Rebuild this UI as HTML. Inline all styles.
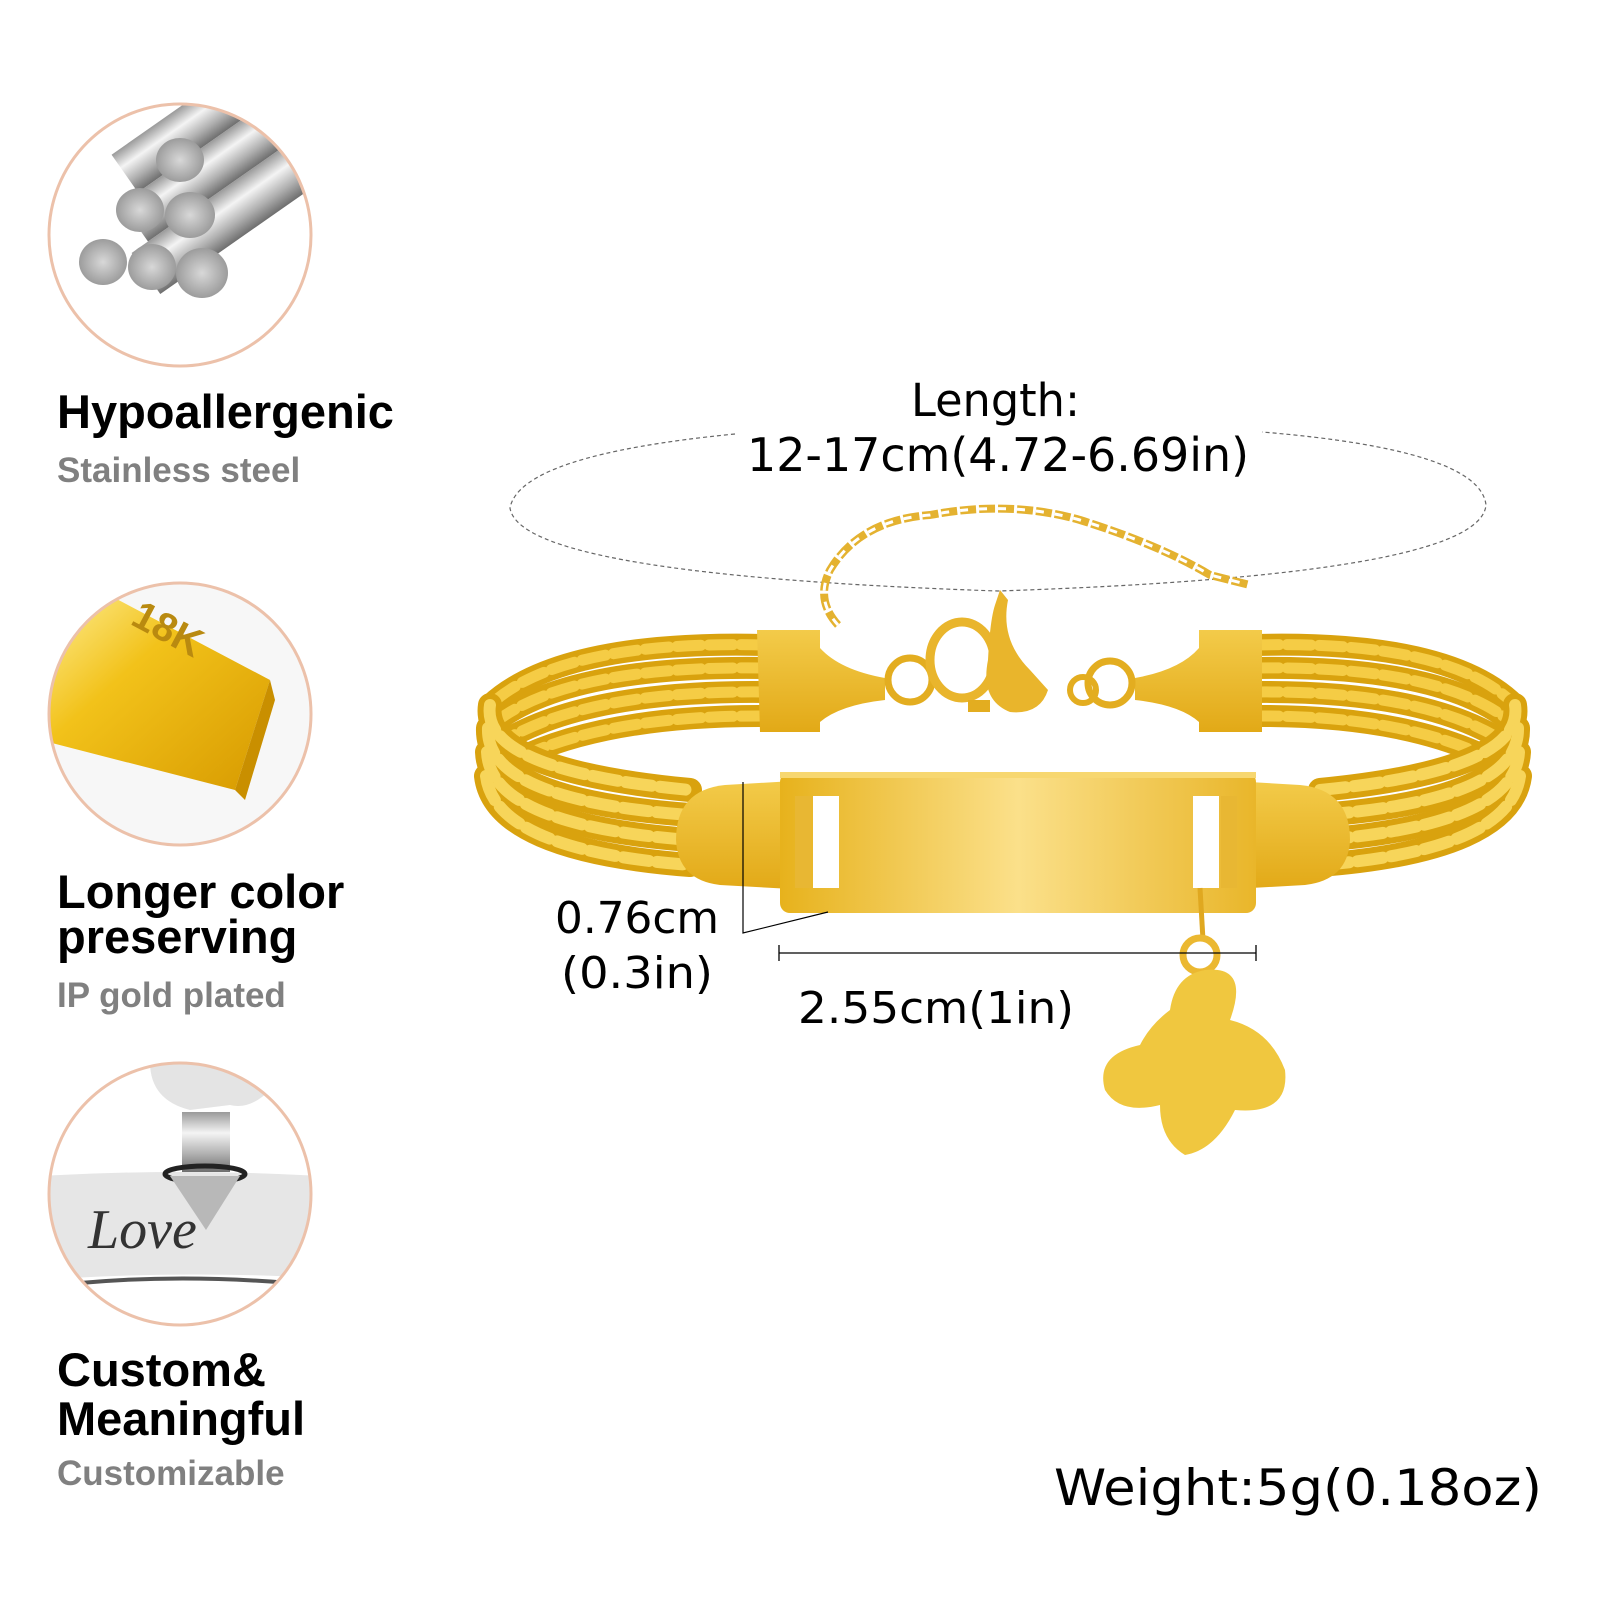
<!DOCTYPE html>
<html><head><meta charset="utf-8"><style>
html,body{margin:0;padding:0;background:#fff;}
svg{display:block}
</style></head><body>
<svg width="1600" height="1600" viewBox="0 0 1600 1600" xmlns="http://www.w3.org/2000/svg">
<defs>
<linearGradient id="gold" x1="0" y1="0" x2="1" y2="0">
<stop offset="0" stop-color="#e7b21c"/><stop offset="0.5" stop-color="#fbe08a"/><stop offset="1" stop-color="#e9b62a"/></linearGradient>
<linearGradient id="goldv" x1="0" y1="0" x2="0" y2="1">
<stop offset="0" stop-color="#f3cb4a"/><stop offset="1" stop-color="#e2a917"/></linearGradient>
<linearGradient id="steel" x1="0" y1="0" x2="0" y2="1">
<stop offset="0" stop-color="#9a9a9a"/><stop offset="0.35" stop-color="#f4f4f4"/><stop offset="0.7" stop-color="#b0b0b0"/><stop offset="1" stop-color="#6e6e6e"/></linearGradient>
<radialGradient id="end" cx="0.5" cy="0.5" r="0.5"><stop offset="0" stop-color="#d8d8d8"/><stop offset="1" stop-color="#9c9c9c"/></radialGradient>
<linearGradient id="bar" x1="0" y1="0" x2="1" y2="1"><stop offset="0" stop-color="#fff2a0"/><stop offset="0.4" stop-color="#f2c21a"/><stop offset="1" stop-color="#d79a00"/></linearGradient>
<clipPath id="c1"><circle cx="180" cy="235" r="131"/></clipPath>
<clipPath id="c2"><circle cx="180" cy="714" r="131"/></clipPath>
<clipPath id="c3"><circle cx="180" cy="1194" r="131"/></clipPath>
</defs>

<g clip-path="url(#c1)">
<rect x="40" y="100" width="280" height="280" fill="#fff"/>
<g transform="rotate(-35 180 235)">
<rect x="170" y="130" width="200" height="46" fill="url(#steel)"/>
<rect x="150" y="176" width="220" height="46" fill="url(#steel)"/>
<rect x="130" y="222" width="230" height="50" fill="url(#steel)"/>
</g>
<ellipse cx="180" cy="160" rx="24" ry="22" fill="url(#end)"/>
<ellipse cx="140" cy="210" rx="24" ry="22" fill="url(#end)"/>
<ellipse cx="190" cy="215" rx="25" ry="23" fill="url(#end)"/>
<ellipse cx="103" cy="262" rx="24" ry="23" fill="url(#end)"/>
<ellipse cx="152" cy="267" rx="24" ry="23" fill="url(#end)"/>
<ellipse cx="202" cy="273" rx="26" ry="25" fill="url(#end)"/>
</g>
<circle cx="180" cy="235" r="131" fill="none" stroke="#ecc1aa" stroke-width="3"/>

<g clip-path="url(#c2)">
<rect x="40" y="580" width="280" height="280" fill="#f7f7f7"/>
<polygon points="40,640 90,585 270,680 235,790 40,740" fill="url(#bar)"/>
<polygon points="235,790 270,680 275,700 245,800" fill="#c98f00"/>
<text x="125" y="640" transform="rotate(28 160 640)" font-family="Liberation Sans, sans-serif" font-weight="bold" font-size="40" fill="#b98a10">18K</text>
</g>
<circle cx="180" cy="714" r="131" fill="none" stroke="#ecc1aa" stroke-width="3"/>

<g clip-path="url(#c3)">
<rect x="40" y="1060" width="280" height="280" fill="#fff"/>
<path d="M40 1176 Q180 1168 320 1176 L320 1278 Q180 1270 40 1280 Z" fill="#e6e6e6"/>
<path d="M80 1283 Q180 1274 290 1283" stroke="#555" stroke-width="4" fill="none"/>
<path d="M150 1062 Q200 1045 270 1090 Q250 1110 230 1105 L190 1110 Q150 1100 150 1062 Z" fill="#e4e4e4"/>
<rect x="182" y="1112" width="48" height="60" fill="url(#steel)"/>
<ellipse cx="205" cy="1174" rx="40" ry="8" fill="none" stroke="#222" stroke-width="5"/>
<polygon points="170,1176 240,1176 206,1230" fill="#b8b8b8"/>
<text x="88" y="1248" font-family="Liberation Serif, serif" font-style="italic" font-size="56" fill="#333">Love</text>
</g>
<circle cx="180" cy="1194" r="131" fill="none" stroke="#ecc1aa" stroke-width="3"/>

<g font-family="Liberation Sans, sans-serif" font-weight="bold">
<text x="57" y="428" font-size="47" fill="#000">Hypoallergenic</text>
<text x="57" y="482" font-size="35" fill="#808080">Stainless steel</text>
<text x="57" y="908" font-size="47" fill="#000">Longer color</text>
<text x="57" y="953" font-size="47" fill="#000">preserving</text>
<text x="57" y="1007" font-size="35" fill="#808080">IP gold plated</text>
<text x="57" y="1386" font-size="47" fill="#000">Custom&amp;</text>
<text x="57" y="1435" font-size="47" fill="#000">Meaningful</text>
<text x="57" y="1485" font-size="35" fill="#808080">Customizable</text>
</g>

<path d="M735 434 Q520 455 510 508 Q520 575 998 591 Q1480 575 1486 505 Q1480 450 1262 432" fill="none" stroke="#666" stroke-width="1.2" stroke-dasharray="4 3"/>

<path d="M838 625 Q815 600 830 570 Q860 520 930 515 Q1010 500 1080 520 Q1160 545 1210 575 L1250 585" fill="none" stroke="#e4b230" stroke-width="8" stroke-dasharray="16 3"/>
<path d="M838 625 Q815 600 830 570 Q860 520 930 515 Q1010 500 1080 520 Q1160 545 1210 575 L1250 585" fill="none" stroke="#fff" stroke-width="3" stroke-dasharray="8 11"/>

<g fill="none" stroke-linecap="round">
<g stroke="#d9a20e" stroke-width="22">
<path d="M765 645 Q560 640 490 705"/>
<path d="M765 668 Q560 665 488 728"/>
<path d="M765 692 Q570 690 487 752"/>
<path d="M765 716 Q580 715 486 776"/>
<path d="M1255 645 Q1450 640 1515 705"/>
<path d="M1255 668 Q1450 665 1518 728"/>
<path d="M1255 692 Q1440 690 1519 752"/>
<path d="M1255 716 Q1430 715 1520 776"/>
</g>
<g stroke="#f5cc45" stroke-width="11" stroke-dasharray="24 8">
<path d="M765 645 Q560 640 490 705"/>
<path d="M765 668 Q560 665 488 728"/>
<path d="M765 692 Q570 690 487 752"/>
<path d="M765 716 Q580 715 486 776"/>
<path d="M1255 645 Q1450 640 1515 705"/>
<path d="M1255 668 Q1450 665 1518 728"/>
<path d="M1255 692 Q1440 690 1519 752"/>
<path d="M1255 716 Q1430 715 1520 776"/>
</g>
<g stroke="#d9a20e" stroke-width="24">
<path d="M490 705 Q480 770 690 790"/>
<path d="M488 728 Q485 800 690 815"/>
<path d="M487 752 Q490 825 690 840"/>
<path d="M486 776 Q495 850 690 865"/>
<path d="M1515 705 Q1525 770 1320 790"/>
<path d="M1518 728 Q1520 800 1320 815"/>
<path d="M1519 752 Q1515 825 1320 840"/>
<path d="M1520 776 Q1510 850 1320 865"/>
</g>
<g stroke="#f7d55a" stroke-width="12" stroke-dasharray="26 8">
<path d="M490 705 Q480 770 690 790"/>
<path d="M488 728 Q485 800 690 815"/>
<path d="M487 752 Q490 825 690 840"/>
<path d="M486 776 Q495 850 690 865"/>
<path d="M1515 705 Q1525 770 1320 790"/>
<path d="M1518 728 Q1520 800 1320 815"/>
<path d="M1519 752 Q1515 825 1320 840"/>
<path d="M1520 776 Q1510 850 1320 865"/>
</g>
</g>

<path d="M757 630 L820 630 L820 648 Q840 670 885 678 L885 700 Q840 705 820 722 L820 732 L760 732 Z" fill="url(#goldv)"/>
<path d="M1262 630 L1199 630 L1199 648 Q1180 670 1135 678 L1135 700 Q1180 705 1199 722 L1199 732 L1262 732 Z" fill="url(#goldv)"/>
<circle cx="910" cy="680" r="22" fill="none" stroke="#e3ad20" stroke-width="7"/>
<circle cx="1110" cy="683" r="22" fill="none" stroke="#e3ad20" stroke-width="7"/>
<circle cx="1083" cy="690" r="13" fill="none" stroke="#e3ad20" stroke-width="6"/>
<ellipse cx="962" cy="660" rx="32" ry="38" fill="none" stroke="#e9b52c" stroke-width="9"/>
<path d="M1000 590 L1008 600 Q1000 640 1030 670 L1048 690 Q1040 715 1010 712 Q980 700 988 660 Q990 620 995 605 Z" fill="#e9b52c"/>
<path d="M968 700 L990 700 L990 712 L968 712 Z" fill="#e3ad20"/>

<path d="M725 785 L810 780 L810 890 L720 885 Q678 880 676 840 Q676 790 725 785 Z" fill="url(#goldv)"/>
<path d="M1300 785 L1215 780 L1215 890 L1305 885 Q1348 880 1350 840 Q1350 790 1300 785 Z" fill="url(#goldv)"/>
<rect x="780" y="772" width="476" height="141" rx="10" fill="url(#gold)"/>
<rect x="780" y="772" width="476" height="6" fill="#f7d770"/>
<rect x="813" y="796" width="26" height="92" fill="#fff"/>
<rect x="1193" y="796" width="26" height="92" fill="#fff"/>
<rect x="795" y="796" width="16" height="92" fill="#e8b733"/>
<rect x="1221" y="796" width="16" height="92" fill="#e8b733"/>

<path d="M1200 888 L1203 940" stroke="#e0a820" stroke-width="5"/>
<circle cx="1200" cy="955" r="17" fill="none" stroke="#ebb831" stroke-width="7"/>
<path d="M1205 970 Q1250 965 1230 1020 Q1270 1030 1285 1070 Q1290 1115 1235 1110 Q1215 1150 1185 1155 Q1160 1140 1160 1105 Q1120 1115 1105 1090 Q1095 1055 1140 1045 Q1150 1025 1170 1010 Q1175 975 1205 970 Z" fill="#f0c73f"/>
<circle cx="1200" cy="955" r="9" fill="#fff"/>

<path d="M743 782 L743 933 L828 912" fill="none" stroke="#000" stroke-width="1.2"/>
<path d="M779 953 L1256 953 M779 945 L779 961 M1256 945 L1256 961" stroke="#000" stroke-width="1.3"/>

<g font-family="DejaVu Sans, sans-serif" fill="#000">
<text x="911" y="416" font-size="45" textLength="169" lengthAdjust="spacingAndGlyphs">Length:</text>
<text x="747" y="471" font-size="46" textLength="502" lengthAdjust="spacingAndGlyphs">12-17cm(4.72-6.69in)</text>
<text x="555" y="933" font-size="44" textLength="164" lengthAdjust="spacingAndGlyphs">0.76cm</text>
<text x="561" y="988" font-size="44" textLength="152" lengthAdjust="spacingAndGlyphs">(0.3in)</text>
<text x="798" y="1023" font-size="44" textLength="276" lengthAdjust="spacingAndGlyphs">2.55cm(1in)</text>
<text x="1054" y="1505" font-size="50" textLength="488" lengthAdjust="spacingAndGlyphs">Weight:5g(0.18oz)</text>
</g>
</svg>
</body></html>
